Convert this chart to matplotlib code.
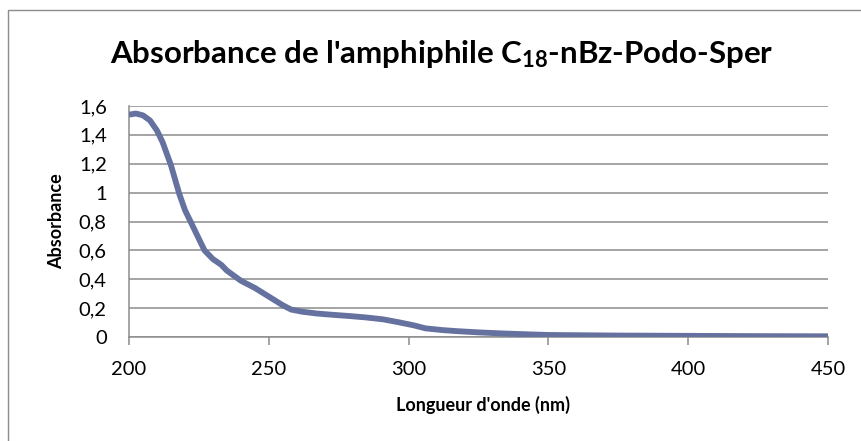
import matplotlib.pyplot as plt
from matplotlib.patches import Rectangle
from matplotlib.ticker import FuncFormatter

# UV absorbance spectrum of the C18-nBz-Podo-Sper amphiphile
wavelength = [200, 202.5, 205, 207.5, 210, 212, 215, 218, 220, 223, 225, 227, 230,
              233, 235, 240, 245, 250, 255, 258, 262, 267, 272, 279, 285, 291, 297,
              302, 306, 312, 317, 325, 333, 342, 350, 375, 400, 425, 450]
absorbance = [1.54, 1.548, 1.535, 1.50, 1.43, 1.35, 1.19, 0.99, 0.88, 0.76, 0.68, 0.60, 0.54,
              0.50, 0.46, 0.39, 0.34, 0.28, 0.22, 0.19, 0.175, 0.163, 0.155, 0.145, 0.135, 0.122, 0.10,
              0.08, 0.06, 0.048, 0.041, 0.032, 0.025, 0.019, 0.014, 0.010, 0.008, 0.006, 0.005]

x_ticks = [200, 250, 300, 350, 400, 450]
y_ticks = [0, 0.2, 0.4, 0.6, 0.8, 1.0, 1.2, 1.4, 1.6]

plt.rcParams['font.family'] = ['Lato', 'DejaVu Sans']
# bold subscript in the title
plt.rcParams['mathtext.fontset'] = 'custom'
plt.rcParams['mathtext.rm'] = 'Lato:bold'
plt.rcParams['mathtext.default'] = 'rm'

fig = plt.figure(figsize=(8.61, 4.41), dpi=100)
# outer chart frame
fig.patches.append(Rectangle((8 / 861, -0.1), 1.2, (441 - 10) / 441 + 0.1,
                             transform=fig.transFigure, fill=False,
                             edgecolor='#8c8c8c', lw=1.0))

ax = fig.add_axes([129 / 861, (441 - 337) / 441, (828 - 129) / 861, (337 - 106) / 441])
ax.plot(wavelength, absorbance, color='#65719f', lw=4.2, solid_capstyle='butt', zorder=3)

ax.set_xlim(200, 450)
ax.set_ylim(0, 1.6)
ax.set_xticks(x_ticks)
ax.set_yticks(y_ticks)
ax.yaxis.set_major_formatter(FuncFormatter(lambda v, p: f"{v:g}".replace('.', ',')))
ax.grid(axis='y', color='#8c8c8c', lw=1.1)
ax.set_axisbelow(True)

for s in ['top', 'right']:
    ax.spines[s].set_visible(False)
for s in ['left', 'bottom']:
    ax.spines[s].set_color('#8c8c8c')
    ax.spines[s].set_linewidth(1.1)
ax.tick_params(axis='x', length=5.5, width=1.1, color='#8c8c8c', labelsize=14.5, pad=12)
ax.tick_params(axis='y', length=0, labelsize=14.5, pad=16)

ax.set_xlabel("Longueur d'onde (nm)", fontsize=13, fontweight='bold')
ax.xaxis.set_label_coords(0.507, -0.257)
ax.set_ylabel("Absorbance", fontsize=13, fontweight='bold')
ax.yaxis.set_label_coords(-0.092, 0.5)

fig.text(441.5 / 861, (441 - 63) / 441, "Absorbance de l'amphiphile C$_{18}$-nBz-Podo-Sper",
         ha='center', va='baseline', fontsize=22.5, fontweight='bold')

plt.savefig('out.png', dpi=100)
